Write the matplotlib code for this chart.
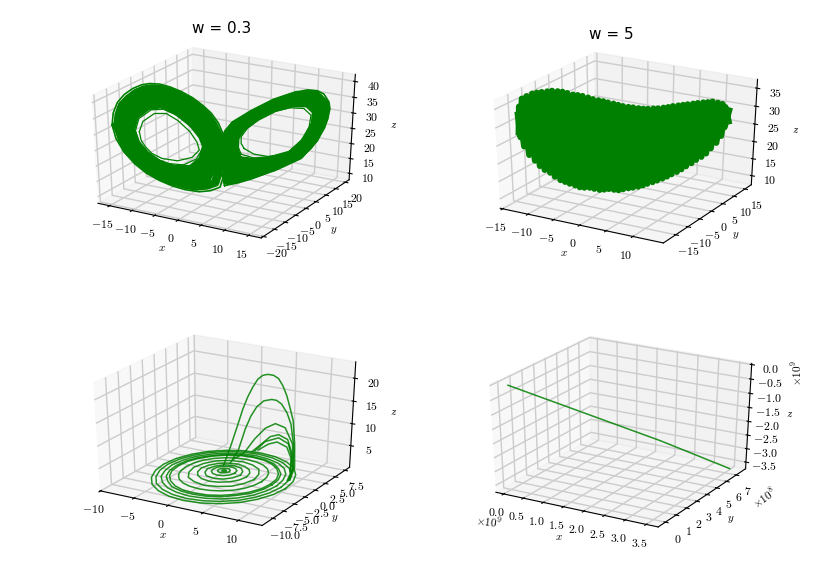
import matplotlib
matplotlib.use("Agg")
import matplotlib.pyplot as plt

plt.rcParams['mathtext.fontset'] = 'cm'
W, H = 831, 577
GREEN = 'g'

# ---- w = 0.3 : left lobe, nested loops
left_x = [
 [-10.8,-10.3,-8.8,-7.3,-5.8,-4.3,-3.4,-3.1,-4.1,-6,-8,-9.3,-10.1,-10.6],
 [-11.3,-10.8,-9.2,-7.6,-5.9,-4.2,-3.1,-2.6,-3.5,-5.2,-7.3,-8.9,-10.1,-10.9],
 [-11.9,-11.3,-9.6,-7.9,-6.1,-4.2,-2.8,-2.1,-2.7,-4.2,-6.5,-8.5,-10.1,-11.3],
 [-12.5,-11.9,-10.1,-8.3,-6.3,-4.1,-2.5,-1.6,-2,-3.2,-5.6,-8,-10.1,-11.8],
 [-13.1,-12.4,-10.6,-8.7,-6.4,-4,-2.1,-1,-1.2,-2.2,-4.7,-7.5,-10.1,-12.2],
 [-13.7,-12.9,-11,-9,-6.6,-4,-1.8,-.5,-.4,-1.2,-3.9,-7.1,-10.1,-12.6],
 [-13.7,-13.5,-13,-12.1,-11.1,-10.1,-9.1,-7.9,-6.7,-5.4,-4.1,-2.9,-1.9,-1.1,-.5,-.2,-.3,-.5,-.9,-2.1,-3.5,-5.2,-6.7,-8.3,-9.9,-11.3,-12.5,-13.3],
 [-14.2,-14,-13.4,-12.5,-11.4,-10.3,-9.3,-8,-6.7,-5.3,-3.9,-2.6,-1.5,-.6,0,.3,.2,0,-.4,-1.7,-3.2,-5,-6.7,-8.4,-10.1,-11.6,-12.9,-13.8],
]
left_y = [
 [-13.5,-12.9,-11,-9.1,-7.3,-5.4,-4.3,-3.9,-5.1,-7.5,-10,-11.6,-12.6,-13.3],
 [-14.1,-13.5,-11.5,-9.5,-7.4,-5.3,-3.9,-3.3,-4.4,-6.5,-9.1,-11.1,-12.6,-13.6],
 [-14.9,-14.1,-12,-9.9,-7.6,-5.3,-3.5,-2.6,-3.4,-5.3,-8.1,-10.6,-12.6,-14.1],
 [-15.6,-14.9,-12.6,-10.4,-7.9,-5.1,-3.1,-2,-2.5,-4,-7,-10,-12.6,-14.8],
 [-16.4,-15.5,-13.3,-10.9,-8,-5,-2.6,-1.3,-1.5,-2.8,-5.9,-9.4,-12.6,-15.3],
 [-17.1,-16.1,-13.8,-11.3,-8.3,-5,-2.3,-.6,-.5,-1.5,-4.9,-8.9,-12.6,-15.8],
 [-17.1,-16.9,-16.3,-15.1,-13.9,-12.6,-11.4,-9.9,-8.4,-6.8,-5.1,-3.6,-2.4,-1.4,-.6,-.3,-.4,-.6,-1.1,-2.6,-4.4,-6.5,-8.4,-10.4,-12.4,-14.1,-15.6,-16.6],
 [-17.8,-17.5,-16.8,-15.6,-14.3,-12.9,-11.6,-10,-8.4,-6.6,-4.9,-3.3,-1.9,-.8,0,.4,.3,0,-.5,-2.1,-4,-6.3,-8.4,-10.5,-12.6,-14.5,-16.1,-17.3],
]
left_z = [
 [29.8,32.9,35.1,34.8,32.3,28.5,25,22.3,20.1,19.4,20.6,22.5,24.8,27],
 [30.2,33.9,36.3,36.2,33.9,30.1,26.3,23,19.5,17.9,18.8,20.8,23.5,26.5],
 [30.7,35,37.7,37.9,35.7,31.9,27.8,23.8,18.9,16.2,16.7,18.9,22.1,26],
 [31.2,36.2,39.2,39.6,37.6,33.8,29.4,24.7,18.2,14.4,14.6,16.9,20.5,25.4],
 [31.7,37.3,40.7,41.3,39.5,35.7,31,25.5,17.5,12.6,12.4,14.8,19,24.8],
 [32.2,38.4,42.1,43,41.3,37.5,32.5,26.3,16.8,10.9,10.3,12.9,17.5,24.3],
 [32.3,35.7,38.6,40.7,42.2,43.1,43.3,42.9,41.9,40.3,38.3,35.9,33.4,30.4,27.1,22,17,13.6,10.7,9.9,9.9,10.9,12.4,14.4,17,20.3,24.1,28.2],
 [32.6,36.3,39.4,41.7,43.3,44.2,44.4,44,42.9,41.2,39.1,36.5,33.8,30.6,27,21.6,16.2,12.5,9.4,8.5,8.5,9.6,11.2,13.4,16.2,19.7,23.8,28.2],
]
# ---- w = 0.3 : right lobe
right_x = [
 [2.8,4.1,6,8.4,10.3,11.4,11.6,10.6,8.8,6.7,4.7,3.2,2.4,2.4],
 [2.4,4,6.2,8.7,10.7,11.8,11.9,10.9,8.9,6.7,4.6,2.9,2,2],
 [2,4,6.4,9.1,11.1,12.2,12.3,11.1,9.1,6.7,4.4,2.5,1.6,1.5],
 [1.5,3.9,6.6,9.5,11.5,12.7,12.8,11.5,9.3,6.7,4.2,2.2,1.1,1.1],
 [1,3.8,6.7,9.9,12,13.1,13.2,11.8,9.4,6.7,4,1.8,.6,.6],
 [.6,3.8,6.9,10.3,12.3,13.5,13.6,12.1,9.6,6.7,3.9,1.4,.2,.1],
 [.7,2.2,3.9,5.5,7.1,8.7,10.3,11.4,12.3,13,13.4,13.6,13.4,12.7,11.9,10.7,9.5,8.1,6.7,5.3,3.9,2.7,1.5,.7,.3,.1,.2,.4],
 [.2,1.9,3.7,5.4,7.1,8.8,10.6,11.8,12.7,13.5,13.9,14.1,13.9,13.2,12.3,11,9.7,8.2,6.7,5.2,3.7,2.4,1.1,.3,-.2,-.4,-.3,-.1],
]
right_y = [
 [3.5,5.1,7.5,10.5,12.9,14.3,14.5,13.3,11,8.4,5.9,4,3,3],
 [3,5,7.8,10.9,13.4,14.8,14.9,13.6,11.1,8.4,5.8,3.6,2.5,2.5],
 [2.5,5,8,11.4,13.9,15.3,15.4,13.9,11.4,8.4,5.5,3.1,2,1.9],
 [1.9,4.9,8.3,11.9,14.4,15.9,16,14.4,11.6,8.4,5.3,2.8,1.4,1.4],
 [1.3,4.8,8.4,12.4,15,16.4,16.5,14.8,11.8,8.4,5,2.3,.8,.8],
 [.8,4.8,8.6,12.9,15.4,16.9,17,15.1,12,8.4,4.9,1.8,.3,.1],
 [.9,2.8,4.9,6.9,8.9,10.9,12.9,14.3,15.4,16.3,16.8,17,16.8,15.9,14.9,13.4,11.9,10.1,8.4,6.6,4.9,3.4,1.9,.9,.4,.1,.3,.5],
 [.3,2.4,4.6,6.8,8.9,11,13.3,14.8,15.9,16.9,17.4,17.6,17.4,16.5,15.4,13.8,12.1,10.3,8.4,6.5,4.6,3,1.4,.4,-.3,-.5,-.4,-.1],
]
right_z = [
 [21.6,19.5,18.3,18.6,22.2,26.8,30.6,32.9,33.5,32.7,30.6,28,25.5,23.3],
 [19.8,18.3,17.6,18.4,22.3,27.2,31.2,33.7,34.2,33.3,31,28.3,25.5,22.4],
 [17.8,16.8,16.9,18.2,22.4,27.7,31.8,34.6,35,33.9,31.5,28.6,25.5,21.4],
 [15.7,15.4,16.1,18,22.5,28.2,32.5,35.6,35.9,34.6,32,29,25.5,20.4],
 [13.6,13.9,15.2,17.7,22.6,28.7,33.2,36.5,36.8,35.2,32.4,29.4,25.5,19.3],
 [11.6,12.4,14.3,17.5,22.7,29.2,33.8,37.4,37.6,35.8,32.9,29.7,25.5,18.4],
 [10.9,11.3,12.2,13.3,14.6,16,17.8,20.2,23,26.1,29.3,31.7,33.7,36.2,37.3,37.7,37.4,36.6,35.6,34.2,32.7,31.2,29.7,27.8,25.5,22,18,14],
 [9.8,10.3,11.2,12.4,13.8,15.3,17.3,19.8,22.8,26.2,29.6,32.2,34.4,37,38.2,38.7,38.3,37.5,36.4,34.9,33.3,31.7,30,28,25.5,21.7,17.4,13.1],
]
loop_widths = [0.9, 0.9, 6.5, 6.5, 6.5, 5, 4, 1.2]

# ---- w = 5 : fast zig-zag across the whole sheet, two passes
w5_x = [-14.2,-14,-13.6,-13,-12.3,-11.7,-11.1,-10.4,-9.8,-9.1,-8.5,-7.9,-7.2,-6.6,-6,-5.3,-4.7,-4,-3.4,-2.8,-2.1,-1.5,-.9,-.2,.4,1.1,1.7,2.3,3,3.6,4.3,4.9,5.5,6.2,6.8,7.4,8.1,8.7,9.4,10,10.6,11.3,11.9,12.3,12.8]
w5_y = [-14.2,-14,-13.6,-13,-12.3,-11.7,-11.1,-10.4,-9.8,-9.1,-8.5,-7.9,-7.2,-6.6,-6,-5.3,-4.7,-4,-3.4,-2.8,-2.1,-1.5,-.9,-.2,.4,1.1,1.7,2.3,3,3.6,4.3,4.9,5.5,6.2,6.8,7.4,8.1,8.7,9.4,10,10.6,11.3,11.9,12.3,12.8]
w5_z = [31.8,25.6,36.1,20.5,37.3,17.2,37.6,15.1,37.8,12.8,37.4,11.6,36.5,10.4,36,10.1,35,9.3,34.3,9.4,33.5,8.9,32.7,9.3,32.2,9.6,31.7,10.3,31.6,11.1,31.7,12.1,32,13.3,32.2,14.8,32.4,16.5,32.6,18.2,32.7,21.1,31.9,25.4,30]
w5_z2 = [27,34,23,36.7,18.8,37.5,16,37.7,13.9,37.6,12.2,37,11,36.3,10.2,35.5,9.7,34.6,9.3,33.9,9.1,33.1,9.1,32.4,9.4,31.9,9.9,31.6,10.7,31.6,11.6,31.8,12.7,32.1,14,32.3,15.6,32.5,17.3,32.6,19.6,32.3,23,31,27]

# ---- lower left : decaying rings near the floor
ring_x = [
 [10,9.7,8.8,7.4,5.5,3.3,1,-1.3,-3.5,-5.4,-6.8,-7.7,-8,-7.7,-6.8,-5.4,-3.5,-1.3,1,3.3,5.5,7.4,8.8,9.7],
 [9.3,9,8.2,6.9,5.1,3.1,.9,-1.3,-3.3,-5.1,-6.4,-7.2,-7.5,-7.2,-6.4,-5.1,-3.3,-1.3,.9,3.1,5.1,6.9,8.2,9],
 [8.6,8.3,7.6,6.4,4.8,2.9,.9,-1.2,-3,-4.6,-5.9,-6.6,-6.9,-6.6,-5.9,-4.6,-3,-1.2,.9,2.9,4.8,6.4,7.6,8.3],
 [7.9,7.7,7,5.8,4.4,2.6,.8,-1,-2.8,-4.2,-5.4,-6.1,-6.3,-6.1,-5.4,-4.2,-2.8,-1,.8,2.6,4.4,5.8,7,7.7],
 [7.6,7.4,6.7,5.6,4.2,2.6,.8,-1,-2.6,-4,-5.1,-5.8,-6,-5.8,-5.1,-4,-2.6,-1,.8,2.6,4.2,5.6,6.7,7.4],
 [6.2,6,5.5,4.6,3.4,2.1,.6,-.9,-2.2,-3.4,-4.3,-4.8,-5,-4.8,-4.3,-3.4,-2.2,-.9,.6,2.1,3.4,4.6,5.5,6],
 [5,4.6,3.7,2.2,.5,-1.2,-2.7,-3.6,-4,-3.6,-2.7,-1.2,.5,2.2,3.7,4.6],
 [3.7,3.4,2.7,1.6,.4,-1,-2,-2.7,-3,-2.7,-2,-1,.4,1.6,2.7,3.4],
 [2.7,2.3,1.5,.3,-1,-1.8,-2.2,-1.8,-1,.3,1.5,2.3],
 [1.7,1.5,.9,.1,-.7,-1.3,-1.5,-1.3,-.7,.1,.9,1.5],
 [.8,.7,.4,0,-.4,-.7,-.8,-.7,-.4,0,.4,.7],
 [.3,.2,0,-.2,-.3,-.2,0,.2],
]
ring_y = [
 [-1.6,.7,2.9,4.8,6.2,7.1,7.4,7.1,6.2,4.8,2.9,.7,-1.6,-3.9,-6.1,-8,-9.4,-10.3,-10.6,-10.3,-9.4,-8,-6.1,-3.9],
 [-1.5,.7,2.7,4.5,5.8,6.6,6.9,6.6,5.8,4.5,2.7,.7,-1.5,-3.7,-5.7,-7.5,-8.8,-9.6,-9.9,-9.6,-8.8,-7.5,-5.7,-3.7],
 [-1.4,.6,2.5,4.1,5.3,6,6.3,6,5.3,4.1,2.5,.6,-1.4,-3.4,-5.3,-6.9,-8.1,-8.8,-9.1,-8.8,-8.1,-6.9,-5.3,-3.4],
 [-1.3,.5,2.3,3.7,4.9,5.6,5.8,5.6,4.9,3.7,2.3,.5,-1.3,-3.1,-4.9,-6.3,-7.5,-8.2,-8.4,-8.2,-7.5,-6.3,-4.9,-3.1],
 [-1.2,.6,2.2,3.6,4.7,5.4,5.6,5.4,4.7,3.6,2.2,.6,-1.2,-3,-4.6,-6,-7.1,-7.8,-8,-7.8,-7.1,-6,-4.6,-3],
 [-1,.5,1.8,3,3.9,4.4,4.6,4.4,3.9,3,1.8,.5,-1,-2.5,-3.8,-5,-5.9,-6.4,-6.6,-6.4,-5.9,-5,-3.8,-2.5],
 [-.8,.9,2.4,3.3,3.7,3.3,2.4,.9,-.8,-2.5,-4,-4.9,-5.3,-4.9,-4,-2.5],
 [-.6,.7,1.7,2.4,2.7,2.4,1.7,.7,-.6,-1.9,-2.9,-3.6,-3.9,-3.6,-2.9,-1.9],
 [-.4,.8,1.7,2,1.7,.8,-.4,-1.6,-2.5,-2.8,-2.5,-1.6],
 [-.1,.7,1.3,1.5,1.3,.7,-.1,-.9,-1.5,-1.7,-1.5,-.9],
 [0,.4,.7,.8,.7,.4,0,-.4,-.7,-.8,-.7,-.4],
 [0,.2,.3,.2,0,-.2,-.3,-.2],
]
ring_level = 0.3
# ---- lower left : excursions rising off the rings
arc_x = [
 [-.7,.4,1.5,2.1,2.8,3.5,4.2,4.9,5.6,6.4,7.1,7.7,8.3,8.8,9.3,9.6,9.7,9.1],
 [.3,1.5,2.5,3.3,4.1,5.1,6.2,6.9,7.6,8.4,9,9.5,9.5,9],
 [.8,2.3,3.9,5.4,6.8,8.2,9.3,9.5,8.9],
 [3.4,5,6.1,7.3,8.6,9.2,9.4,8.7],
 [3.9,5.4,7.3,8.7,9.2,9.1],
 [4.4,5.9,7.1,8.5,9.2,9.1],
]
arc_z = [
 [.66,5.6,11.1,14.2,17.1,19.4,21.3,22.3,22.7,22.7,22.2,20.9,18.9,16.4,13.7,8.7,3.5,.4],
 [1.5,4.9,10,13.1,15.3,16.9,17.5,17.5,16.9,15.2,12.9,7.9,3.4,.3],
 [2.6,4.4,8.2,11,12.4,11.9,8.6,3.4,.3],
 [5,7.5,9.3,10.1,9.4,6.7,3,.1],
 [5.4,8,9.4,8.5,5.9,2.6],
 [5.8,7.6,8.4,7.7,5.2,2.2],
]
arc_level = 1.0
# ---- lower right : straight run-away
run_x = [.05, 1.2, 2.4, 3.55]
run_y = [0, 2.4, 4.9, 7.3]
run_z = [-.05, -1.2, -2.4, -3.65]

fig = plt.figure(figsize=(W/100, H/100), dpi=100)

def panel(left, top, width, title, tx, ty, xl, yl, zl, xt, yt, zt, xf, yf, zf):
    ax = fig.add_axes([left/W, 1-(top+227)/H, width/W, 227/H], projection='3d')
    ax.apply_aspect = lambda position=None: None
    ax.set_box_aspect((1, 1, 1), zoom=0.91)
    ax.set_xticks(xt); ax.set_yticks(yt); ax.set_zticks(zt)
    ax.set_xticklabels([xf % v for v in xt], fontsize=8.5)
    ax.set_yticklabels([yf % v for v in yt], fontsize=8.5)
    ax.set_zticklabels([zf % v for v in zt], fontsize=8.5)
    ax.set_xlim(*xl); ax.set_ylim(*yl); ax.set_zlim(*zl)
    ax.set_xlabel('$x$', fontsize=8, labelpad=-3)
    ax.set_ylabel('$y$', fontsize=8, labelpad=-3)
    ax.set_zlabel('$z$', fontsize=8, labelpad=-3)
    ax.tick_params(axis='both', pad=0)
    for a in (ax.xaxis, ax.yaxis, ax.zaxis):
        a._axinfo['grid'].update(color=(.8, .8, .8, 1), linewidth=1.0)
    if title:
        ax.set_title(title, x=tx, y=ty, fontsize=11, pad=0)
    return ax

a1 = panel(46.8, 29, 348, 'w = 0.3', .502, 1.070, (-17.6, 17.6), (-21, 22), (7.8, 42.2),
           [-15,-10,-5,0,5,10,15], [-20,-15,-10,-5,0,5,10,15,20], [10,15,20,25,30,35,40], '$%g$', '$%g$', '$%g$')
a2 = panel(449, 34, 348, 'w = 5', .465, 1.061, (-15.5, 15.6), (-20, 18), (7.3, 37.4),
           [-15,-10,-5,0,5,10], [-15,-10,-5,0,5,10,15], [10,15,20,25,30,35], '$%g$', '$%g$', '$%g$')
a3 = panel(49, 316.5, 346, '', 0, 0, (-10.1, 13.3), (-12.4, 8.7), (0, 23.5),
           [-10,-5,0,5,10], [-10,-7.5,-5,-2.5,0,2.5,5,7.5], [5,10,15,20], '$%g$', '$%.1f$', '$%g$')
a4 = panel(445, 318, 346, '', 0, 0, (-.2, 3.78), (-.67, 8), (-3.75, .04),
           [0,.5,1,1.5,2,2.5,3,3.5], [0,1,2,3,4,5,6,7], [0,-.5,-1,-1.5,-2,-2.5,-3,-3.5], '$%.1f$', '$%g$', '$%.1f$')

# the lobes were read against limits of (-16, 17); rescale to the drawn limits
def rescale(xs):
    return [(v - .3) * 1.05 for v in xs]

for xs, ys, zs, lw in zip(left_x, left_y, left_z, loop_widths):
    a1.plot(rescale(xs + xs[:1]), ys + ys[:1], zs + zs[:1], color=GREEN, lw=lw)
for xs, ys, zs, lw in zip(right_x, right_y, right_z, loop_widths):
    a1.plot(rescale(xs + xs[:1]), ys + ys[:1], zs + zs[:1], color=GREEN, lw=lw)

a2.plot(w5_x, w5_y, w5_z, color=GREEN, lw=4.5)
a2.plot(w5_x, w5_y, w5_z2, color=GREEN, lw=4.5)

for xs, ys in zip(ring_x, ring_y):
    a3.plot(xs + xs[:1], ys + ys[:1], ring_level, color=GREEN, lw=1.1, alpha=.85)
for xs, zs in zip(arc_x, arc_z):
    a3.plot(xs, [arc_level] * len(xs), zs, color=GREEN, lw=1.1, alpha=.85)

a4.plot(run_x, run_y, run_z, color=GREEN, lw=1.1, alpha=.85)

fig.text(489/W, 1-522/H, r'$\times 10^{9}$', fontsize=8, ha='center', va='center', rotation=-8)
fig.text(764/W, 1-498/H, r'$\times 10^{8}$', fontsize=8, ha='center', va='center', rotation=35)
fig.text(797/W, 1-373/H, r'$\times 10^{9}$', fontsize=8, ha='center', va='center', rotation=90)
fig.savefig('out.png', dpi=100)
